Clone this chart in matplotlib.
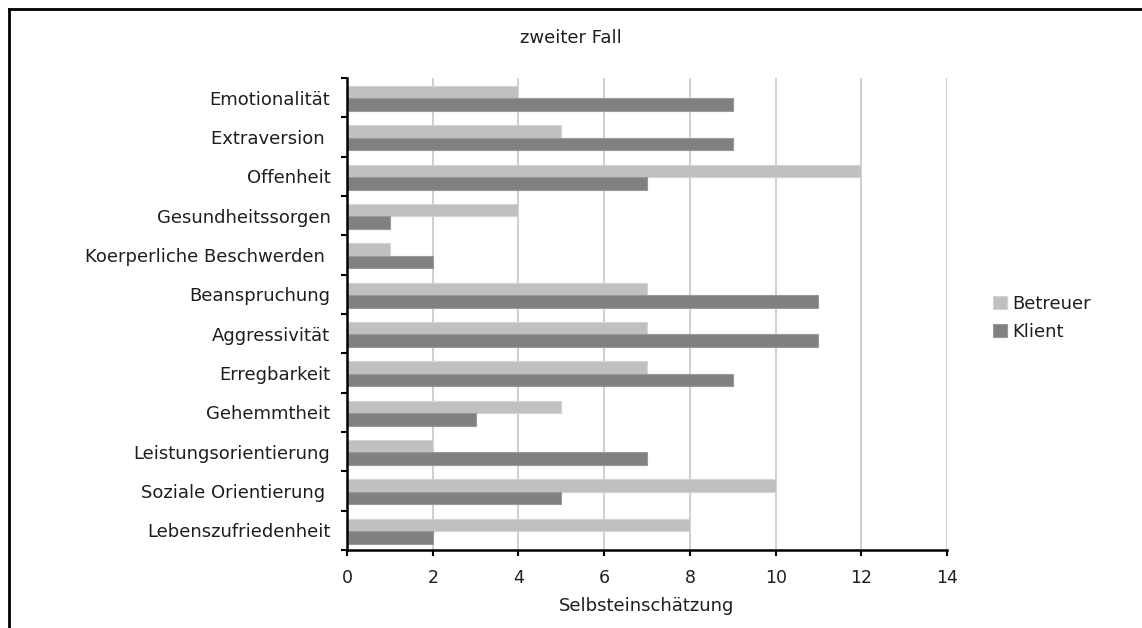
import numpy as np
import matplotlib
matplotlib.use("Agg")
import matplotlib.pyplot as plt
from matplotlib.lines import Line2D

kategorien = ["Emotionalität", "Extraversion ", "Offenheit", "Gesundheitssorgen",
              "Koerperliche Beschwerden ", "Beanspruchung", "Aggressivität",
              "Erregbarkeit", "Gehemmtheit", "Leistungsorientierung",
              "Soziale Orientierung ", "Lebenszufriedenheit"]
betreuer = [4, 5, 12, 4, 1, 7, 7, 7, 5, 2, 10, 8]
klient = [9, 9, 7, 1, 2, 11, 11, 9, 3, 7, 5, 2]
x_ticks = [0, 2, 4, 6, 8, 10, 12, 14]

plt.rcParams['font.family'] = ['DejaVu Sans']
txt = "#1e1e1e"
fs = 13

fig = plt.figure(figsize=(11.42, 6.28), dpi=100)
ax = fig.add_axes([0.3039, 0.1242, 0.5254, 0.7516])

# erste Kategorie oben
pos = np.arange(len(kategorien))[::-1]
h = 0.32
ax.barh(pos + 0.14, betreuer, height=h, color="#c0c0c0", edgecolor="#d4d4d4",
        linewidth=0.8, label="Betreuer", zorder=2)
ax.barh(pos - 0.18, klient, height=h, color="#808080", edgecolor="#9a9a9a",
        linewidth=0.8, label="Klient", zorder=2)

ax.set_xlim(0, 14)
ax.set_ylim(-0.5, len(kategorien) - 0.5)
ax.set_xticks(x_ticks)
ax.set_xticklabels([str(t) for t in x_ticks], fontsize=12.5, color=txt)
ax.set_yticks(pos)
ax.set_yticklabels(kategorien, fontsize=fs, color=txt)
ax.set_yticks(np.arange(len(kategorien) + 1) - 0.5, minor=True)
ax.tick_params(axis="y", which="major", length=0, pad=12)
ax.tick_params(axis="y", which="minor", length=4, width=1.5, direction="out")
ax.tick_params(axis="x", length=4, width=1.5, direction="out", pad=10)

ax.grid(axis="x", color="#c8c8c8", linewidth=1.2, zorder=0)
ax.set_axisbelow(True)
for s in ["top", "right"]:
    ax.spines[s].set_visible(False)
for s in ["left", "bottom"]:
    ax.spines[s].set_linewidth(1.8)
    ax.spines[s].set_color("#000000")

ax.set_xlabel("Selbsteinschätzung", fontsize=fs, color=txt, labelpad=7)
fig.text(0.5, 0.94, "zweiter Fall", ha="center", va="center", fontsize=fs, color=txt)

leg = fig.legend(loc="center left", bbox_to_anchor=(0.862, 0.494), frameon=False,
                 fontsize=fs, handlelength=0.75, handleheight=0.75,
                 handletextpad=0.3, labelspacing=0.55, borderpad=0)
for t in leg.get_texts():
    t.set_color(txt)

# Rahmen links und oben
fig.add_artist(Line2D([0.0075, 0.0075], [0, 0.986], transform=fig.transFigure,
                      color="black", linewidth=2))
fig.add_artist(Line2D([0.0075, 1.0], [0.986, 0.986], transform=fig.transFigure,
                      color="black", linewidth=2))

fig.savefig("out.png", dpi=100)
